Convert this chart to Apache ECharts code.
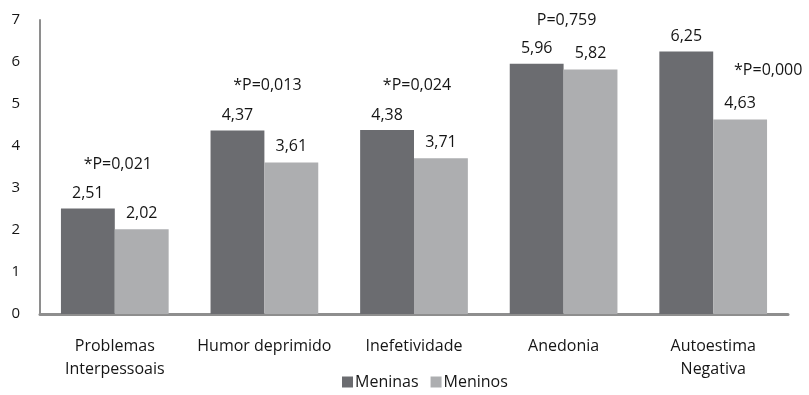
<!DOCTYPE html>
<html>
<head>
<meta charset="utf-8">
<script src="https://cdn.jsdelivr.net/npm/echarts@6/dist/echarts.min.js"></script>
<style>
  html, body { margin: 0; padding: 0; background: #fff; }
  #chart { width: 809px; height: 395px; }
</style>
</head>
<body>
<div id="chart"></div>
<script>
  const categories = ['Problemas\nInterpessoais', 'Humor deprimido', 'Inefetividade', 'Anedonia', 'Autoestima\nNegativa'];
  const meninas = [2.51, 4.37, 4.38, 5.96, 6.25];
  const meninos = [2.02, 3.61, 3.71, 5.82, 4.63];
  // p-value notes: text and the height (in axis units) where each sits
  const pTexts = ['*P=0,021', '*P=0,013', '*P=0,024', 'P=0,759', '*P=0,000'];
  const pHeights = [3.55, 5.45, 5.45, 7.0, 5.8];
  const yTicks = [0, 1, 2, 3, 4, 5, 6, 7];

  const fontFamily = '"Open Sans", "Noto Sans", sans-serif';
  const textColor = '#151515';
  const comma = v => String(v.toFixed(2)).replace('.', ',');

  const myChart = echarts.init(document.getElementById('chart'));
  myChart.setOption({
    animation: false,
    color: ['#6b6c70', '#adaeb0'],
    textStyle: { fontFamily: fontFamily },
    grid: { left: 40, right: 21, top: 20, bottom: 81 },
    legend: {
      bottom: 0,
      left: 337,
      itemWidth: 11,
      itemHeight: 11,
      itemGap: 12,
      icon: 'rect',
      textStyle: { fontSize: 16, color: textColor, padding: [0, 0, 0, -3] },
      data: ['Meninas', 'Meninos']
    },
    xAxis: {
      type: 'category',
      data: categories,
      axisLine: { lineStyle: { color: '#8e8e8e', width: 3 } },
      axisTick: { show: false },
      axisLabel: { color: textColor, fontSize: 16, margin: 21, lineHeight: 23, interval: 0 }
    },
    yAxis: {
      type: 'value',
      min: 0,
      max: yTicks[yTicks.length - 1],
      interval: 1,
      axisLine: { show: true, lineStyle: { color: '#8e8e8e', width: 2 } },
      axisTick: { show: false },
      splitLine: { show: false },
      axisLabel: { color: textColor, fontSize: 15, margin: 20 }
    },
    series: [
      {
        name: 'Meninas',
        type: 'bar',
        barGap: 0,
        barCategoryGap: '28%',
        data: meninas,
        label: { show: true, position: 'top', distance: 7, fontSize: 16, color: textColor, formatter: p => comma(p.value) }
      },
      {
        name: 'Meninos',
        type: 'bar',
        data: meninos,
        label: { show: true, position: 'top', distance: 8, fontSize: 16, color: textColor, formatter: p => comma(p.value) }
      },
      {
        name: 'p',
        type: 'scatter',
        symbolSize: 0,
        silent: true,
        itemStyle: { color: textColor },
        data: pTexts.map((t, i) => ({
          value: [i, pHeights[i]],
          name: t,
          label: { offset: i === 4 ? [55, 0] : [3, 0] }
        })),
        label: { show: true, position: 'inside', fontSize: 16, color: textColor, opacity: 1, formatter: p => p.name }
      }
    ]
  });

  window.addEventListener('resize', () => {
    myChart.resize();
  });
</script>
</body>
</html>
